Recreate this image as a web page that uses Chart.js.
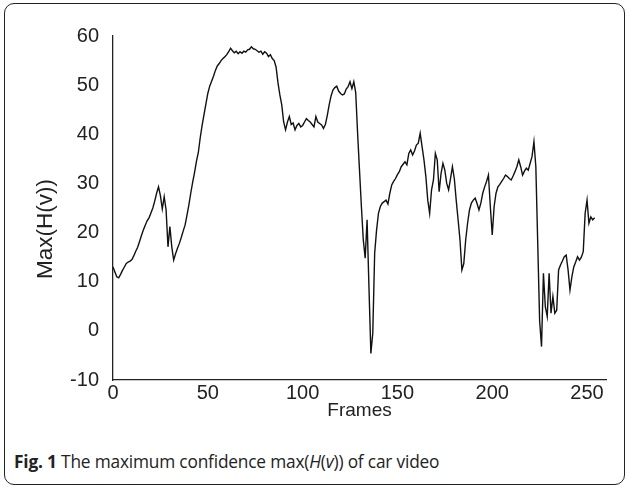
<!DOCTYPE html>
<html><head><meta charset="utf-8">
<script src="https://cdn.jsdelivr.net/npm/chart.js@4.4.1/dist/chart.umd.min.js"></script>
<style>
html,body{margin:0;padding:0;background:#fff;width:630px;height:488px;overflow:hidden}
#frame{position:absolute;left:4px;top:3px;width:621px;height:482px;border:1.5px solid #222;border-radius:10px;box-sizing:border-box}
#wrap{position:absolute;left:0;top:0;width:630px;height:430px}
#cap{position:absolute;left:14px;top:448px;font-family:"Open Sans","Liberation Sans",sans-serif;font-size:18.5px;color:#222;letter-spacing:-0.2px;transform:scaleX(0.935);transform-origin:left center;white-space:nowrap}
</style></head><body>
<div id="frame"></div>
<div id="wrap"><canvas id="c" width="630" height="430"></canvas></div>
<div id="cap"><b>Fig. 1</b> The maximum confidence max(<i>H</i>(<i>v</i>)) of car video</div>
<script>
const frames = Array.from({length:255},(_,i)=>i);
const maxH = [
13.0,12.0,11.0,10.8,11.5,12.3,13.0,13.7,14.0,14.2,
14.5,15.3,16.2,17.0,18.2,19.4,20.5,21.5,22.4,23.0,
24.0,25.0,26.4,28.0,29.3,27.5,24.8,27.3,24.6,17.1,
21.2,17.1,14.4,15.7,16.8,17.8,19.0,20.3,21.5,23.5,
25.6,28.0,30.2,32.2,34.5,36.3,39.3,41.8,44.0,46.2,
48.3,49.8,50.8,51.8,53.0,53.9,54.4,55.0,55.4,55.8,
56.2,56.8,57.5,57.0,56.6,56.9,56.4,56.8,56.5,56.9,
56.7,57.2,57.3,57.8,57.4,57.3,57.0,56.7,56.9,56.3,
56.8,56.5,55.8,56.2,55.4,55.0,53.7,50.5,48.0,46.0,
42.5,40.9,42.5,43.6,42.0,42.3,40.9,41.8,42.2,41.5,
41.8,42.5,43.2,42.8,42.5,42.0,41.5,43.6,42.5,42.2,
41.9,41.2,42.0,43.8,46.0,47.8,49.0,49.5,49.8,48.8,
48.3,48.0,48.2,49.2,49.7,50.7,49.3,50.7,48.5,40.2,
32.7,25.3,18.5,14.8,22.6,8.7,-4.6,-0.5,15.8,20.5,
23.9,25.3,26.0,26.3,26.6,25.8,28.0,29.7,30.4,31.0,
31.8,32.4,33.4,33.9,34.4,33.8,36.1,36.8,35.8,36.6,
37.8,38.2,40.2,37.5,34.8,31.4,26.6,23.9,28.7,30.7,
36.1,34.8,28.3,32.0,34.1,32.7,30.0,28.7,31.0,33.4,
31.0,26.6,22.6,18.5,12.4,13.7,18.5,21.9,24.6,26.0,
26.6,27.0,25.9,24.6,26.0,28.0,29.3,30.4,31.7,25.3,
19.5,25.3,28.0,29.3,29.8,30.4,31.0,31.7,31.4,31.0,
30.7,31.5,32.4,33.4,34.8,33.4,31.7,32.5,33.1,32.7,
34.1,35.5,38.5,33.4,17.8,2.0,-3.2,11.7,4.9,2.9,
11.7,3.6,7.0,3.6,4.2,12.4,13.4,14.2,15.1,15.4,
12.4,8.3,11.0,13.0,14.0,15.1,14.4,15.0,16.1,23.9,
26.6,21.9,23.2,22.6,23.0];
const xTicks = [0,50,100,150,200,250];
const yTicks = [-10,0,10,20,30,40,50,60];
const xTitle = 'Frames';
const yTitle = 'Max(H(v))';

const FAM = "'Liberation Sans', Arial, sans-serif";
const fontTick = {family:FAM, size:20};
const yTitlePlugin = {
  id:'yTitle',
  afterDraw(chart){
    const ctx = chart.ctx;
    ctx.save();
    ctx.translate(46, 229);
    ctx.rotate(-Math.PI/2);
    ctx.font = "22.5px " + FAM;
    ctx.fillStyle = '#222';
    ctx.textAlign = 'center';
    ctx.textBaseline = 'middle';
    ctx.fillText(yTitle, 0, 0);
    ctx.restore();
  }
};
new Chart(document.getElementById('c'), {
  type:'line',
  data:{datasets:[{data:frames.map((f,i)=>({x:f,y:maxH[i]})),borderColor:'#111',borderWidth:1.4,pointRadius:0,tension:0,fill:false}]},
  plugins:[yTitlePlugin],
  options:{
    responsive:false, animation:false, events:[],
    layout:{padding:{left:0,right:24,top:36,bottom:0}},
    plugins:{legend:{display:false},tooltip:{enabled:false}},
    scales:{
      x:{type:'linear',min:0,max:260,
        afterBuildTicks:a=>{a.ticks=xTicks.map(v=>({value:v}));},
        afterFit:s=>{s.height=50;},
        grid:{display:false,drawTicks:true,tickLength:5,tickColor:'#222'},
        border:{color:'#222',width:1.3},
        ticks:{color:'#222',font:fontTick,padding:-4,maxRotation:0},
        title:{display:true,text:xTitle,color:'#222',font:{family:FAM,size:19},padding:{top:0,bottom:8}}},
      y:{min:-10,max:60,
        afterBuildTicks:a=>{a.ticks=yTicks.map(v=>({value:v}));},
        afterFit:s=>{s.width=113;},
        grid:{display:false,drawTicks:true,tickLength:6,tickColor:'#222'},
        border:{color:'#222',width:1.3},
        ticks:{color:'#222',font:fontTick,padding:8},
        title:{display:false}}
    }
  }
});
</script>
</body></html>
